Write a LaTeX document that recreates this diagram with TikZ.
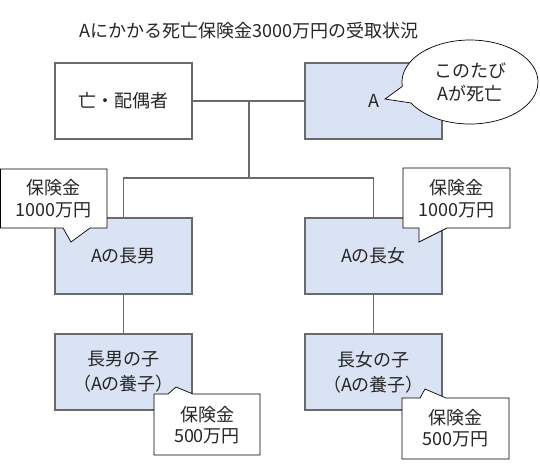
\documentclass[tikz,border=0pt]{standalone}
\usepackage{fontspec}
\setmainfont{Noto Sans CJK JP}
\usetikzlibrary{shapes.callouts}
\definecolor{boxfill}{HTML}{DAE3F3}
\definecolor{linec}{HTML}{6A6A6A}
\definecolor{txt}{HTML}{262626}
\tikzset{
  x=1pt, y=-1pt,
  every node/.style={font=\fontsize{18}{23}\selectfont, text=txt},
  person/.style={draw=linec, line width=1.3pt, minimum width=137pt, minimum height=76pt, inner sep=0pt, align=center},
  famline/.style={draw=linec, line width=1.3pt},
  callbox/.style={draw=black, line width=0.7pt, fill=white, line join=miter},
  calltext/.style={align=center, inner sep=0pt},
}
\begin{document}
\begin{tikzpicture}
\useasboundingbox (0,0) rectangle (540,464);
% title
\node (title) at (249,31) {Aにかかる死亡保険金3000万円の受取状況};
% coordinates
\coordinate (m1) at (249,101);
\coordinate (m2) at (249,178);
% boxes
\node[person] (sp) at (123.5,101) {亡・配偶者};
\node[person, fill=boxfill] (a) at (373.5,101) {A};
\node[person, fill=boxfill] (son) at (123.5,256) {Aの長男};
\node[person, fill=boxfill] (dau) at (373.5,256) {Aの長女};
\node[person, fill=boxfill, font=\fontsize{18}{25}\selectfont] (sonc) at (123.5,372) {長男の子\\（Aの養子）};
\node[person, fill=boxfill, font=\fontsize{18}{25}\selectfont] (dauc) at (373.5,372) {長女の子\\（Aの養子）};
% connectors
\draw[famline] (sp.east) -- (a.west);
\draw[famline] (m1) -- (m2);
\draw[famline] (son.north) |- (m2) -| (dau.north);
\draw[famline] (son.south) -- (sonc.north);
\draw[famline] (dau.south) -- (dauc.north);
% ellipse callout
\node[ellipse callout, draw=black, line width=0.7pt, fill=white, minimum width=136pt, minimum height=84pt,
      callout absolute pointer={(385,99)}, callout pointer arc=24, inner sep=0pt,
      align=center, font=\fontsize{18}{23}\selectfont] (died) at (470,82) {このたび\\Aが死亡};
% rectangle callouts
\path[callbox] (0.5,169) -- (107,169) -- (107,228) -- (90,228) -- (71,242) -- (63,228) -- (0.5,228) -- cycle;
\node[calltext, font=\fontsize{18}{22}\selectfont] (c1) at (53.5,199) {保険金\\1000万円};
\path[callbox] (403,168) -- (510,168) -- (510,228) -- (447,228) -- (419,242) -- (419,228) -- (403,228) -- cycle;
\node[calltext, font=\fontsize{18}{22}\selectfont] (c2) at (456.5,199) {保険金\\1000万円};
\path[callbox] (154,394) -- (168,394) -- (176,387) -- (193,394) -- (260,394) -- (260,455) -- (154,455) -- cycle;
\node[calltext, font=\fontsize{18}{21}\selectfont] (c3) at (207,425) {保険金\\500万円};
\path[callbox] (402,398) -- (420,398) -- (425,389) -- (446,398) -- (509,398) -- (509,459) -- (402,459) -- cycle;
\node[calltext, font=\fontsize{18}{21}\selectfont] (c4) at (455.5,428) {保険金\\500万円};
\end{tikzpicture}
\end{document}
